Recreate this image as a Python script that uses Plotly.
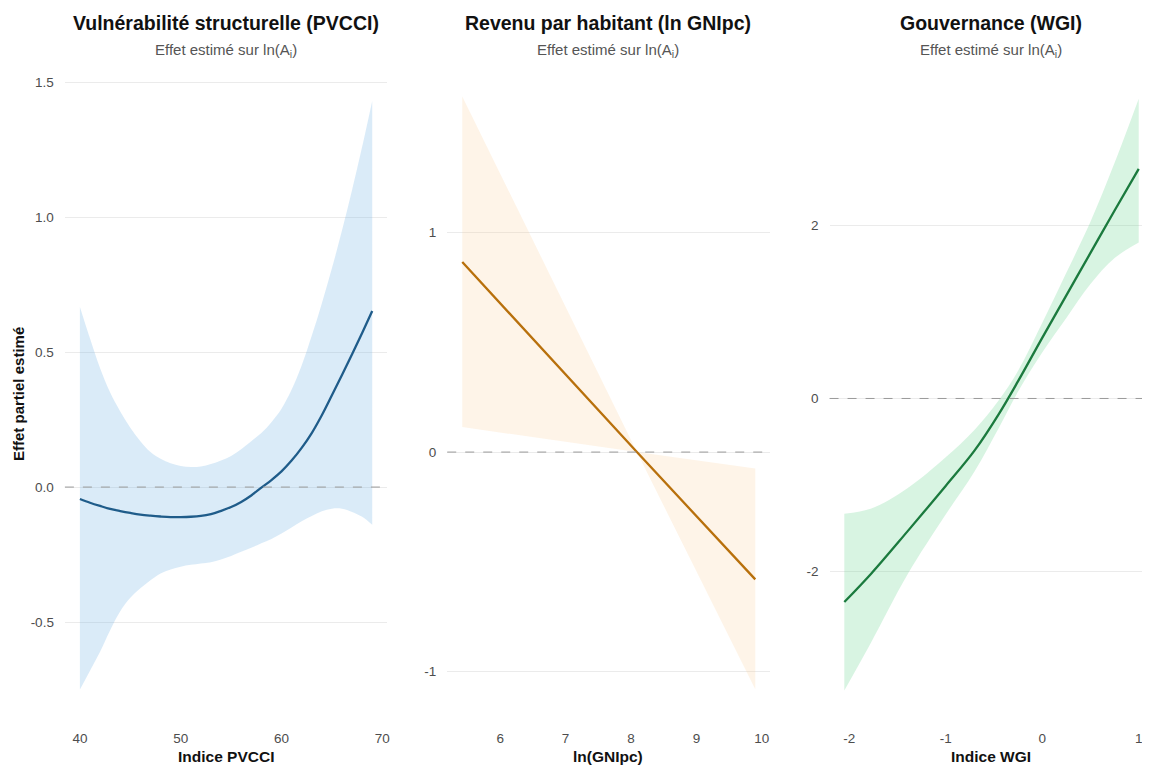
import plotly.graph_objects as go

# ---------------- data ----------------
# Panel 1 : PVCCI
pvcci_x = [40, 41, 42, 43, 44, 45, 46, 47, 48, 49, 50, 51, 52, 53, 54,
           55, 56, 57, 58, 59, 60, 61, 62, 63, 64, 65, 66, 67, 68, 69]
pvcci_fit = [-0.044, -0.058, -0.070, -0.081, -0.089, -0.096, -0.102, -0.106, -0.109, -0.111,
             -0.111, -0.110, -0.107, -0.100, -0.088, -0.074, -0.055, -0.031, -0.002, 0.026,
             0.058, 0.098, 0.145, 0.200, 0.266, 0.340, 0.415, 0.492, 0.571, 0.652]
pvcci_low = [-0.75, -0.68, -0.61, -0.53, -0.46, -0.41, -0.375, -0.345, -0.32, -0.305,
             -0.295, -0.288, -0.283, -0.278, -0.268, -0.255, -0.24, -0.225, -0.208, -0.192,
             -0.172, -0.150, -0.127, -0.107, -0.090, -0.080, -0.080, -0.092, -0.110, -0.140]
pvcci_up = [0.667, 0.55, 0.44, 0.35, 0.28, 0.22, 0.17, 0.13, 0.105, 0.088,
            0.078, 0.074, 0.076, 0.085, 0.098, 0.115, 0.14, 0.17, 0.20, 0.24,
            0.29, 0.36, 0.45, 0.56, 0.68, 0.81, 0.95, 1.10, 1.26, 1.43]

# Panel 2 : ln(GNIpc)
gni_x = [5.42, 8.09, 9.90]
gni_fit = [0.866, 0.0, -0.58]
gni_low = [0.114, 0.0, -1.08]
gni_up = [1.62, 0.0, -0.075]

# Panel 3 : WGI
wgi_x = [-2.05, -1.77, -1.4, -1.0, -0.7, -0.45, -0.25, 0.0, 0.25, 0.5, 0.75, 1.0]
wgi_fit = [-2.35, -2.02, -1.54, -1.01, -0.60, -0.18, 0.20, 0.70, 1.19, 1.68, 2.17, 2.65]
wgi_low = [-3.37, -2.81, -2.04, -1.34, -0.84, -0.34, 0.08, 0.53, 0.93, 1.32, 1.62, 1.80]
wgi_up = [-1.33, -1.27, -1.04, -0.68, -0.36, -0.02, 0.32, 0.87, 1.45, 2.04, 2.72, 3.46]

# ticks
x1_ticks = [40, 50, 60, 70]
x2_ticks = [6, 7, 8, 9, 10]
x3_ticks = [-2, -1, 0, 1]
x3_labels = ["-2", "-1", "0", "1"]
y1_ticks = [-0.5, 0.0, 0.5, 1.0, 1.5]
y1_labels = ["-0.5", "0.0", "0.5", "1.0", "1.5"]
y2_ticks = [-1, 0, 1]
y2_labels = ["-1", "0", "1"]
y3_ticks = [-2, 0, 2]
y3_labels = ["-2", "0", "2"]

titles = ["Vulnérabilité structurelle (PVCCI)", "Revenu par habitant (ln GNIpc)", "Gouvernance (WGI)"]
subtitle = "Effet estimé sur ln(A<sub>i</sub>)"
xtitles = ["Indice PVCCI", "ln(GNIpc)", "Indice WGI"]
ytitle = "Effet partiel estimé"

# ---------------- styling ----------------
FONT = "Liberation Sans, Arial, sans-serif"
OFF = 8  # page body margin offset
W, H = 1150 - OFF, 767 - OFF
panels_px = [(65, 388), (448, 771), (831, 1150)]
top_px, bot_px = 71, 719
xranges = [[38.51, 70.5], [5.19, 10.12], [-2.203, 1.096]]
yranges = [[-0.859, 1.541], [-1.216, 1.736], [-3.70, 3.78]]
line_colors = ["#1f5c8a", "#b8700c", "#1b7a3e"]
fill_colors = ["rgba(100,170,225,0.24)", "rgba(250,200,140,0.20)", "rgba(100,210,140,0.25)"]
smooth = [True, False, True]


def px_x(p):
    return (p - OFF) / W


def px_y(p):
    return 1 - (p - OFF) / H


data = [
    (pvcci_x, pvcci_fit, pvcci_low, pvcci_up),
    (gni_x, gni_fit, gni_low, gni_up),
    (wgi_x, wgi_fit, wgi_low, wgi_up),
]
xticks = [(x1_ticks, [str(v) for v in x1_ticks]), (x2_ticks, [str(v) for v in x2_ticks]), (x3_ticks, x3_labels)]
yticks = [(y1_ticks, y1_labels), (y2_ticks, y2_labels), (y3_ticks, y3_labels)]

fig = go.Figure()
layout = dict(
    width=W, height=H, autosize=False,
    margin=dict(l=0, r=0, t=0, b=0, pad=0),
    paper_bgcolor="white", plot_bgcolor="white",
    showlegend=False,
    font=dict(family=FONT, color="#4d4d4d"),
)
annotations = []
shapes = []

ydom = [px_y(bot_px), px_y(top_px)]
for i, (xs, fit, lo, up) in enumerate(data):
    n = "" if i == 0 else str(i + 1)
    xa, ya = "x" + n, "y" + n
    shape = "spline" if smooth[i] else "linear"
    fig.add_trace(go.Scatter(
        x=xs, y=lo, mode="lines", line=dict(width=0, shape=shape),
        hoverinfo="skip", xaxis=xa, yaxis=ya))
    fig.add_trace(go.Scatter(
        x=xs, y=up, mode="lines", line=dict(width=0, shape=shape),
        fill="tonexty", fillcolor=fill_colors[i],
        hoverinfo="skip", xaxis=xa, yaxis=ya))
    fig.add_trace(go.Scatter(
        x=xs, y=fit, mode="lines", line=dict(color=line_colors[i], width=2.3, shape=shape),
        xaxis=xa, yaxis=ya))
    x0, x1 = panels_px[i]
    layout["xaxis" + n] = dict(
        domain=[px_x(x0), min(1.0, px_x(x1))], range=xranges[i], anchor=ya,
        showgrid=False, zeroline=False, showline=False, ticks="",
        tickvals=xticks[i][0], ticktext=xticks[i][1],
        tickfont=dict(size=13.5, color="#4d4d4d", family=FONT),
        ticklabelstandoff=9)
    layout["yaxis" + n] = dict(
        domain=ydom, range=yranges[i], anchor=xa,
        showgrid=True, gridcolor="#ebebeb", gridwidth=1,
        zeroline=False, showline=False, ticks="",
        tickvals=yticks[i][0], ticktext=yticks[i][1],
        tickfont=dict(size=13.5, color="#4d4d4d", family=FONT),
        ticklabelstandoff=10)
    shapes.append(dict(type="line", xref="paper", yref=ya,
                       x0=px_x(x0), x1=min(1.0, px_x(x1)), y0=0, y1=0,
                       line=dict(color="#9a9a9a", width=1, dash="dash"), layer="above"))
    cx = px_x((x0 + (x1 if i < 2 else 1155)) / 2)
    annotations.append(dict(text="<b>" + titles[i] + "</b>", x=cx, y=px_y(23), xref="paper", yref="paper",
                            showarrow=False, xanchor="center", yanchor="middle",
                            font=dict(size=19.5, color="#111111", family=FONT)))
    annotations.append(dict(text=subtitle, x=cx, y=px_y(50), xref="paper", yref="paper",
                            showarrow=False, xanchor="center", yanchor="middle",
                            font=dict(size=15, color="#555555", family=FONT)))
    annotations.append(dict(text="<b>" + xtitles[i] + "</b>", x=cx, y=px_y(756), xref="paper", yref="paper",
                            showarrow=False, xanchor="center", yanchor="middle",
                            font=dict(size=15.5, color="#111111", family=FONT)))

annotations.append(dict(text="<b>" + ytitle + "</b>", x=px_x(18), y=px_y(394), xref="paper", yref="paper",
                        showarrow=False, xanchor="center", yanchor="middle", textangle=-90,
                        font=dict(size=15, color="#111111", family=FONT)))

layout["annotations"] = annotations
layout["shapes"] = shapes
fig.update_layout(**layout)
fig.write_html("out.html")
